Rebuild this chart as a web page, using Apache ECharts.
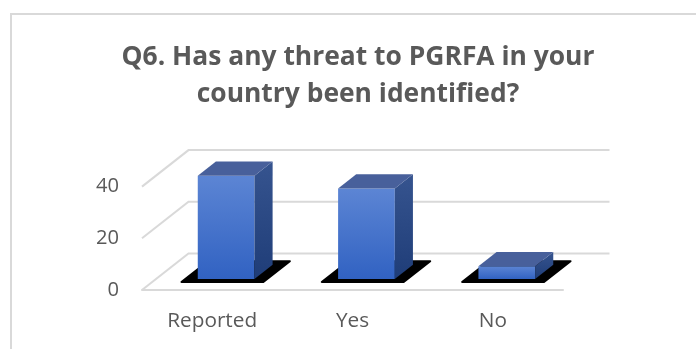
<!DOCTYPE html>
<html><head><meta charset="utf-8">
<script src="https://cdn.jsdelivr.net/npm/echarts@6/dist/echarts.min.js"></script>
<style>html,body{margin:0;padding:0;background:#fff}#c{width:696px;height:349px}</style>
</head><body><div id="c"></div>
<script>
const titleLines = ['Q6. Has any threat to PGRFA in your', 'country been identified?'];
const categories = ['Reported', 'Yes', 'No'];
const values = [40, 35, 5];
const yTicks = [0, 20, 40];

const FONT = '"Open Sans", "Liberation Sans", sans-serif';
function fitSize(text, weight, target) {
  const ctx = document.createElement('canvas').getContext('2d');
  ctx.font = weight + ' 100px ' + FONT;
  return 100 * target / ctx.measureText(text).width;
}
const titleSize = fitSize(titleLines[0], 'bold', 473);
const catSize = fitSize(categories[0], 'normal', 90);
const tickSize = fitSize('40', 'normal', 23);

const DX = 46.5, DY = -36.5;
const GRID_COLOR = '#D9D9D9';
const TEXT_COLOR = '#595959';

const chart = echarts.init(document.getElementById('c'), null, {renderer: 'canvas'});
chart.setOption({
  animation: false,
  backgroundColor: '#fff',
  title: {
    text: titleLines.join('\n'),
    left: 358, top: 39, textAlign: 'center', padding: 0,
    textStyle: {fontFamily: FONT, fontWeight: 'bold', fontSize: titleSize, color: TEXT_COLOR, lineHeight: 37}
  },
  graphic: [{
    type: 'rect', silent: true, z: -10,
    shape: {x: 11, y: 14, width: 800, height: 500},
    style: {fill: null, stroke: GRID_COLOR, lineWidth: 2}
  }],
  grid: {left: 142, right: 133, top: 186.6, bottom: 59},
  xAxis: {
    type: 'category', data: categories, boundaryGap: true,
    axisLine: {show: true, lineStyle: {color: GRID_COLOR, width: 2}},
    axisTick: {show: false},
    axisLabel: {color: TEXT_COLOR, fontFamily: FONT, fontSize: catSize, margin: 21}
  },
  yAxis: {
    type: 'value', min: 0, max: 40, interval: 20,
    axisLine: {show: false}, axisTick: {show: false}, splitLine: {show: false},
    axisLabel: {color: TEXT_COLOR, fontFamily: FONT, fontSize: tickSize, margin: 23, padding: [6, 0, 0, 0]}
  },
  series: [
    {
      type: 'custom', silent: true, z: 1,
      data: yTicks.map(v => [0, v]),
      renderItem(params, api) {
        const cs = params.coordSys;
        const y = api.coord([0, api.value(1)])[1];
        const x0 = cs.x, x1 = cs.x + cs.width;
        return {
          type: 'polyline',
          shape: {points: [[x0, y], [x0 + DX, y + DY], [x1 + DX, y + DY]]},
          style: {stroke: GRID_COLOR, lineWidth: 2, fill: null}
        };
      }
    },
    {
      type: 'custom', z: 3,
      data: values.map((v, i) => [i, v]),
      renderItem(params, api) {
        const i = api.value(0), v = api.value(1);
        const base = api.coord([i, 0]);
        const top = api.coord([i, v]);
        const bw = api.size([1, 0])[0];
        const hw = bw * 0.202, hs = bw * 0.292;
        const f1 = 0.3, f2 = 0.69, s1 = 0.22, s2 = 0.79;
        const cx = base[0], y0 = base[1], yv = top[1];
        const P = (x, y, f) => [x + f * DX, y + f * DY];
        const fl = P(cx - hw, yv, f1);
        const fb = P(cx + hw, y0, f1);
        return {
          type: 'group',
          children: [
            {type: 'polygon', shape: {points: [P(cx - hs, y0, s1), P(cx + hs, y0, s1), P(cx + hs, y0, s2), P(cx - hs, y0, s2)]},
             style: {fill: '#000', stroke: '#000', lineWidth: 2, lineJoin: 'round'}},
            {type: 'rect', shape: {x: fl[0], y: fl[1], width: fb[0] - fl[0], height: fb[1] - fl[1]},
             style: {fill: new echarts.graphic.LinearGradient(0, 0, 0, 1, [{offset: 0, color: '#5C85D4'}, {offset: 1, color: '#3162C2'}])}},
            {type: 'polygon', shape: {points: [P(cx + hw, yv, f1), P(cx + hw, yv, f2), P(cx + hw, y0, f2), P(cx + hw, y0, f1)]},
             style: {fill: new echarts.graphic.LinearGradient(0, 0, 0, 1, [{offset: 0, color: '#36548F'}, {offset: 1, color: '#1F3D78'}])}},
            {type: 'polygon', shape: {points: [P(cx - hw, yv, f1), P(cx + hw, yv, f1), P(cx + hw, yv, f2), P(cx - hw, yv, f2)]},
             style: {fill: '#48609B'}}
          ]
        };
      }
    }
  ]
});
</script>
</body></html>
